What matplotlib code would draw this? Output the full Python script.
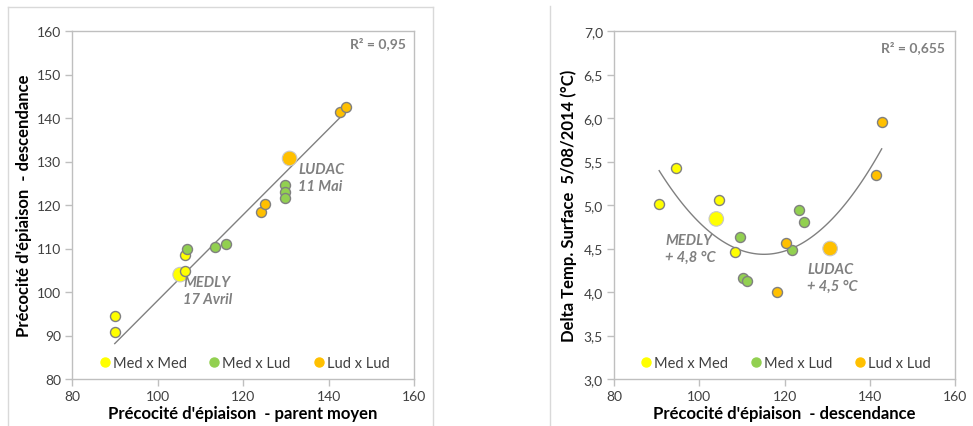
import numpy as np
import matplotlib
matplotlib.use("Agg")
import matplotlib.pyplot as plt
from matplotlib.lines import Line2D

plt.rcParams['font.family'] = ['Lato', 'DejaVu Sans']

# --- data: left chart (parent moyen -> descendance) ---
groups = ["Med x Med", "Med x Lud", "Lud x Lud"]
colors = ["#FFFF00", "#92D050", "#FFC000"]

parent_x = [
    [90.0, 90.0, 106.4, 106.4],          # Med x Med
    [107.0, 113.5, 116.1, 129.9, 129.9, 129.9],  # Med x Lud
    [124.1, 125.1, 142.8, 144.0],        # Lud x Lud
]
desc_y = [
    [94.5, 90.7, 108.5, 104.9],
    [109.8, 110.4, 111.1, 124.5, 123.1, 121.7],
    [118.4, 120.3, 141.4, 142.5],
]
# parent varieties (big markers)
ref_names = ["MEDLY", "LUDAC"]
ref_parent_x = [105.3, 130.9]
ref_desc_y = [104.0, 130.7]
ref_colors = ["#FFFF00", "#FFC000"]
# linear trendline as shown (slope, intercept), drawn over x range
lin_coef = [0.986, -0.6]
lin_range = [90.0, 143.2]

# --- data: right chart (descendance -> delta temperature) ---
desc_x = [
    [90.6, 94.5, 104.7, 108.4],
    [109.6, 110.3, 111.2, 121.8, 123.4, 124.5],
    [118.2, 120.3, 141.5, 142.8],
]
delta_t = [
    [5.01, 5.43, 5.06, 4.46],
    [4.63, 4.16, 4.13, 4.48, 4.94, 4.81],
    [4.00, 4.56, 5.34, 5.95],
]
ref_desc_x = [104.0, 130.7]
ref_delta = [4.84, 4.50]
# polynomial (order 2) trendline as shown
quad_coef = [0.00159, -0.3663, 25.53]
quad_range = [90.6, 142.8]

r2_left = "R² = 0,95"
r2_right = "R² = 0,655"

grey = "#808080"
spine_c = "#BFBFBF"
tick_c = "#404040"

fig = plt.figure(figsize=(9.73, 4.27), dpi=100)
ax1 = fig.add_axes([72 / 973, 1 - 380 / 427, 342 / 973, 348 / 427])
ax2 = fig.add_axes([614 / 973, 1 - 380 / 427, 341 / 973, 348 / 427])


def style(ax):
    for s in ax.spines.values():
        s.set_color(spine_c)
        s.set_linewidth(1)
    ax.tick_params(direction='out', length=5, color=spine_c, width=1,
                   labelsize=10, labelcolor=tick_c, pad=3)


def scatter_groups(ax, xs, ys, bx, by):
    handles = []
    for x, y, c, g in zip(xs, ys, colors, groups):
        ax.scatter(x, y, s=52, color=c, edgecolor=grey, linewidth=1, zorder=3)
        handles.append(Line2D([], [], marker='o', linestyle='none', markersize=6.5,
                              markerfacecolor=c, markeredgecolor=c, label=g))
    ax.scatter(bx, by, s=110, color=ref_colors, edgecolor="#C8C8C8", linewidth=0.8, zorder=2)
    return handles


def legend(ax, h):
    ax.legend(handles=h, loc='lower center', bbox_to_anchor=(0.5, -0.012), ncol=3, frameon=False,
              fontsize=10.5, handletextpad=0.0, columnspacing=1.35, handlelength=1.1,
              labelcolor=tick_c)


note = dict(ha='left', va='top', fontsize=10.5, color=grey, style='italic',
            fontweight='bold', linespacing=1.25)

# left chart
h = scatter_groups(ax1, parent_x, desc_y, ref_parent_x, ref_desc_y)
xl = np.linspace(lin_range[0], lin_range[1], 50)
ax1.plot(xl, np.polyval(lin_coef, xl), color=grey, lw=1, zorder=1)
ax1.set_xlim(80, 160)
ax1.set_ylim(80, 160)
ax1.set_xticks(range(80, 161, 20))
ax1.set_yticks(range(80, 161, 10))
ax1.set_xlabel("Précocité d'épiaison  - parent moyen", fontsize=12, fontweight='bold', labelpad=2)
ax1.set_ylabel("Précocité d'épiaison  - descendance", fontsize=12, fontweight='bold', labelpad=3)
ax1.text(0.975, 0.968, r2_left, transform=ax1.transAxes, ha='right', va='center',
         fontsize=10, color=grey, fontweight='bold')
ax1.text(106.0, 103.8, "MEDLY\n17 Avril", **note)
ax1.text(132.9, 129.8, "LUDAC\n11 Mai", **note)
style(ax1)
legend(ax1, h)

# right chart
h = scatter_groups(ax2, desc_x, delta_t, ref_desc_x, ref_delta)
xq = np.linspace(quad_range[0], quad_range[1], 100)
ax2.plot(xq, np.polyval(quad_coef, xq), color=grey, lw=1, zorder=1)
ax2.set_xlim(80, 160)
ax2.set_ylim(3, 7)
ax2.set_xticks(range(80, 161, 20))
yt = np.arange(3.0, 7.01, 0.5)
ax2.set_yticks(yt)
ax2.set_yticklabels([f"{v:.1f}".replace('.', ',') for v in yt])
ax2.set_xlabel("Précocité d'épiaison  - descendance", fontsize=12, fontweight='bold', labelpad=2)
ax2.set_ylabel("Delta Temp. Surface  5/08/2014 (°C)", fontsize=12, fontweight='bold', labelpad=5)
ax2.text(0.971, 0.955, r2_right, transform=ax2.transAxes, ha='right', va='center',
         fontsize=10, color=grey, fontweight='bold')
ax2.text(92.0, 4.68, "MEDLY\n+ 4,8 °C", **note)
ax2.text(125.3, 4.34, "LUDAC\n+ 4,5 °C", **note)
style(ax2)
legend(ax2, h)

# chart-area borders
fc = "#D9D9D9"
fig.add_artist(Line2D([8 / 973, 433 / 973], [1 - 8 / 427, 1 - 8 / 427], color=fc, lw=1))
fig.add_artist(Line2D([8 / 973, 8 / 973], [0, 1 - 8 / 427], color=fc, lw=1))
fig.add_artist(Line2D([433 / 973, 433 / 973], [0, 1 - 8 / 427], color=fc, lw=1))
fig.add_artist(Line2D([550 / 973, 550 / 973], [0, 1 - 7 / 427], color=fc, lw=1))

fig.savefig("out.png", dpi=100)
